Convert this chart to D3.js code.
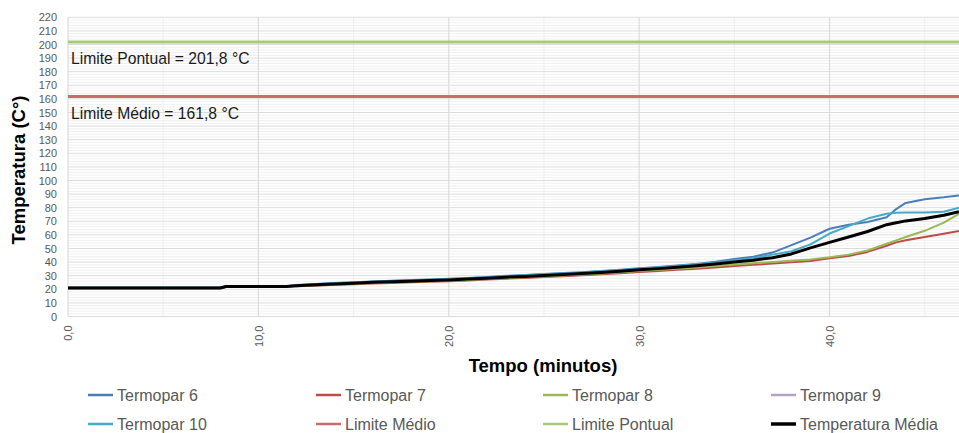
<!DOCTYPE html>
<html>
<head>
<meta charset="utf-8">
<style>
html, body { margin: 0; padding: 0; background: #fff; }
svg { display: block; font-family: "Liberation Sans", Arial, sans-serif; }
</style>
</head>
<body>
<svg id="chart" width="959" height="433"></svg>
<script src="https://cdnjs.cloudflare.com/ajax/libs/d3/7.8.5/d3.min.js"></script>
<script>
// tempo (minutos)
const tempo = [0, 2, 4, 6, 8, 8.3, 10, 11.5, 12, 13, 14, 15, 16, 17, 18, 19, 20, 21, 22, 23, 24, 25, 26, 27, 28, 29, 30,
  31, 32, 33, 34, 35, 36, 37, 38, 39, 40, 41, 42, 43, 43.5, 44, 45, 46, 46.8];

const termopar6 = [21.3, 21.3, 21.3, 21.3, 21.3, 22.3, 22.3, 22.4, 23.2, 23.9, 24.6, 25.2, 25.8, 26.3, 26.8, 27.2, 27.7, 28.4, 29.1, 29.9, 30.5, 31.2, 31.9, 32.6, 33.5, 34.4, 35.4,
  36.4, 37.5, 38.6, 40.2, 42.2, 44, 47, 52.5, 58, 64.5, 67.5, 69.5, 73, 79, 83.5, 86.2, 87.6, 89];
const termopar7 = [20.8, 20.8, 20.8, 20.8, 20.8, 21.7, 21.7, 21.7, 22.2, 22.7, 23.3, 23.8, 24.3, 24.7, 25.1, 25.5, 25.9, 26.5, 27.2, 27.8, 28.4, 29, 29.6, 30.3, 31, 31.8, 32.7,
  33.5, 34.3, 35.1, 36.1, 37.2, 38, 38.9, 39.8, 40.8, 42.8, 44.5, 47.5, 52, 54.5, 56, 58.5, 60.8, 62.8];
const termopar8 = [21, 21, 21, 21, 21, 21.9, 21.9, 22, 22.5, 23, 23.6, 24.1, 24.6, 25, 25.5, 25.9, 26.3, 26.9, 27.6, 28.2, 28.8, 29.5, 30.2, 30.9, 31.7, 32.6, 33.5,
  34.3, 35.2, 36.1, 37.2, 38.3, 39.2, 40.1, 41, 42, 43.5, 45.5, 48.5, 53.5, 56, 58.5, 63, 69, 75.5];
const termopar9 = [];
const termopar10 = [21.2, 21.2, 21.2, 21.2, 21.2, 22.2, 22.2, 22.3, 23, 23.7, 24.4, 25, 25.6, 26.1, 26.6, 27, 27.5, 28.2, 28.9, 29.6, 30.3, 31, 31.7, 32.4, 33.2, 34.1, 35.1,
  36.1, 37.1, 38.2, 39.6, 41.4, 42.8, 45.5, 48, 53, 61, 66.5, 72, 75.5, 76.3, 76.5, 76.5, 77, 80];
const media = [21, 21, 21, 21, 21, 22, 22, 22, 22.7, 23.3, 23.9, 24.5, 25.1, 25.5, 26, 26.4, 26.9, 27.5, 28.2, 28.9, 29.5, 30.2, 30.9, 31.6, 32.4, 33.3, 34.3,
  35.2, 36.2, 37.3, 38.6, 40, 41.4, 43.2, 46, 50.5, 54.5, 58.5, 62.5, 67.5, 69, 70.3, 72, 74.5, 77];

const limiteMedio = 161.8;
const limitePontual = 201.8;

const yTicks = d3.range(0, 221, 10);
const xTicks = [0, 10, 20, 30, 40];

const series = [
  { name: "Termopar 6", values: termopar6, color: "#4a7ebb" },
  { name: "Termopar 7", values: termopar7, color: "#be4b48" },
  { name: "Termopar 8", values: termopar8, color: "#98b954" },
  { name: "Termopar 9", values: termopar9, color: "#b3a2c7" },
  { name: "Termopar 10", values: termopar10, color: "#46aac5" },
  { name: "Limite Médio", values: null, color: "#cc6b6b" },
  { name: "Limite Pontual", values: null, color: "#a9c97a" },
  { name: "Temperatura Média", values: media, color: "#000000" }
];

const svg = d3.select("#chart");
const x = d3.scaleLinear().domain([0, 46.8]).range([68, 959]);
const y = d3.scaleLinear().domain([0, 220]).range([316.5, 17.3]);

// grid
const grid = svg.append("g");
grid.selectAll(".minor").data(d3.range(0, 221, 2).filter(v => v % 10 !== 0))
  .join("line").attr("x1", x(0)).attr("x2", 959)
  .attr("y1", d => y(d)).attr("y2", d => y(d))
  .attr("stroke", "#f0f0f0").attr("stroke-width", 1);
grid.selectAll(".vminor").data([5, 15, 25, 35, 45])
  .join("line").attr("y1", y(0)).attr("y2", y(220))
  .attr("x1", d => x(d)).attr("x2", d => x(d))
  .attr("stroke", "#efefef").attr("stroke-width", 1);
grid.selectAll(".major").data(yTicks)
  .join("line").attr("x1", x(0)).attr("x2", 959)
  .attr("y1", d => y(d)).attr("y2", d => y(d))
  .attr("stroke", "#dcdcdc").attr("stroke-width", 1);
grid.selectAll(".vmajor").data(xTicks)
  .join("line").attr("y1", y(0)).attr("y2", y(220))
  .attr("x1", d => x(d)).attr("x2", d => x(d))
  .attr("stroke", "#dcdcdc").attr("stroke-width", 1.2);

// axes
const yAxis = svg.append("g").attr("transform", `translate(${x(0)},0)`)
  .call(d3.axisLeft(y).tickValues(yTicks).tickSize(0).tickPadding(11));
yAxis.select(".domain").remove();
yAxis.selectAll("text").attr("fill", "#595959").style("font-size", "11px")
  .style("font-family", "'Liberation Sans', Arial, sans-serif");

const xAxis = svg.append("g").attr("transform", `translate(0,${y(0)})`)
  .call(d3.axisBottom(x).tickValues(xTicks).tickSize(0).tickFormat(d => d3.format(".1f")(d).replace(".", ",")));
xAxis.select(".domain").remove();
xAxis.selectAll("text").attr("fill", "#595959").style("font-size", "11px")
  .style("font-family", "'Liberation Sans', Arial, sans-serif")
  .attr("transform", "rotate(-90)").attr("text-anchor", "end")
  .attr("x", -9).attr("y", 0).attr("dy", "0.35em");

// limit lines
svg.append("line").attr("x1", x(0)).attr("x2", 959)
  .attr("y1", y(limitePontual)).attr("y2", y(limitePontual))
  .attr("stroke", "#a9c97a").attr("stroke-width", 3);
svg.append("line").attr("x1", x(0)).attr("x2", 959)
  .attr("y1", y(limiteMedio)).attr("y2", y(limiteMedio))
  .attr("stroke", "#cc6b6b").attr("stroke-width", 3);

svg.append("text").attr("x", 71).attr("y", 64).attr("fill", "#1a1a1a")
  .style("font-size", "15.7px").text("Limite Pontual = 201,8 °C");
svg.append("text").attr("x", 71).attr("y", 119).attr("fill", "#1a1a1a")
  .style("font-size", "15.7px").text("Limite Médio = 161,8 °C");

// series lines
const line = d3.line().x((d, i) => x(tempo[i])).y(d => y(d));
series.filter(s => s.values && s.values.length).forEach(s => {
  svg.append("path").attr("d", line(s.values))
    .attr("fill", "none").attr("stroke", s.color)
    .attr("stroke-width", s.name === "Temperatura Média" ? 3 : 2)
    .attr("stroke-linejoin", "round");
});

// axis titles
svg.append("text").attr("x", 543).attr("y", 372).attr("text-anchor", "middle")
  .style("font-size", "18.5px").style("font-weight", "bold").attr("fill", "#000")
  .text("Tempo (minutos)");
svg.append("text").attr("transform", "translate(25,170) rotate(-90)").attr("text-anchor", "middle")
  .style("font-size", "18.5px").style("font-weight", "bold").attr("fill", "#000")
  .text("Temperatura (C°)");

// legend
const colX = [88, 316, 543, 771];
const rowY = [395, 424];
const leg = svg.append("g").selectAll("g").data(series).join("g")
  .attr("transform", (d, i) => `translate(${colX[i % 4]},${rowY[Math.floor(i / 4)]})`);
leg.append("line").attr("x1", 0).attr("x2", 25).attr("y1", 0).attr("y2", 0)
  .attr("stroke", d => d.color).attr("stroke-width", d => d.name === "Temperatura Média" ? 3.5 : 2.5);
leg.append("text").attr("x", 29).attr("y", 0).attr("dy", "0.35em")
  .attr("fill", "#595959").style("font-size", "16px").text(d => d.name);
</script>
</body>
</html>
